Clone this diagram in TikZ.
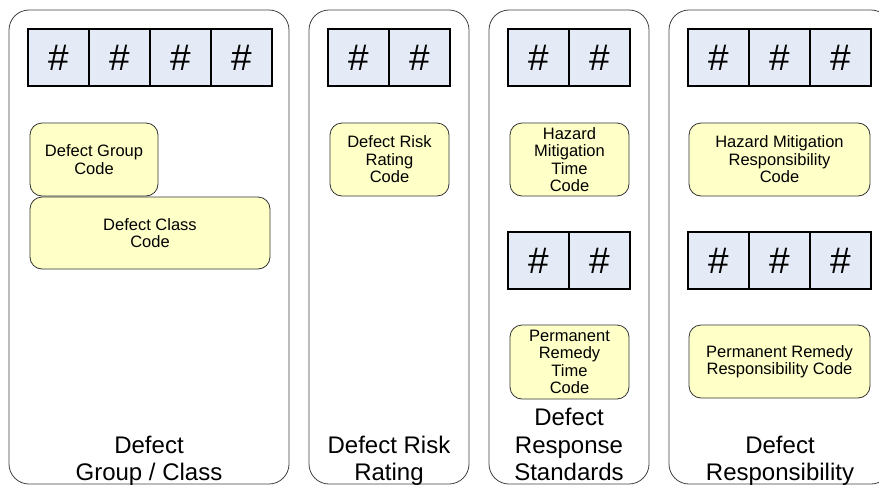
\documentclass[tikz,border=0pt]{standalone}
\usepackage{fontspec}
\setmainfont{Liberation Sans}

\definecolor{hashfill}{RGB}{229,235,246}
\definecolor{codefill}{RGB}{255,255,200}

\begin{document}
\begin{tikzpicture}[x=1pt,y=-1pt]
	\tikzstyle{panel}=[draw=black!75, line width=0.8pt, rounded corners=20pt, minimum height=474pt, inner sep=0pt, outer sep=0pt]
	\tikzstyle{hashcell}=[draw=black, line width=2.4pt, fill=hashfill, minimum width=61pt, minimum height=57pt, inner sep=0pt, outer sep=0pt]
	\tikzstyle{hashcell}+=[font=\fontsize{37}{37}\selectfont]
	\tikzstyle{codebox}=[draw=black!80, line width=0.8pt, fill=codefill, rounded corners=12pt, align=center, minimum height=73pt, inner sep=2pt, outer sep=0pt]
	\tikzstyle{codebox}+=[font=\fontsize{16.5}{17.5}\selectfont]
	\tikzstyle{paneltitle}=[align=center, anchor=south, inner sep=0pt, font=\fontsize{24}{27.5}\selectfont]

	\useasboundingbox (0,0) rectangle (879,485);
	\clip (0,0) rectangle (879,485);

	% the four column panels
	\node[panel, minimum width=280pt] (group) at (149,247) {};
	\node[panel, minimum width=160pt, anchor=west] (risk) at ([xshift=20pt] group.east) {};
	\node[panel, minimum width=160pt, anchor=west] (response) at ([xshift=20pt] risk.east) {};
	\node[panel, minimum width=222pt, anchor=west] (resp) at ([xshift=20pt] response.east) {};

	% digit cells
	\node[hashcell, anchor=north west] (groupA) at ([xshift=19pt, yshift=-19pt] group.north west) {\#};
	\node[hashcell, anchor=west] (groupB) at (groupA.east) {\#};
	\node[hashcell, anchor=west] (groupC) at (groupB.east) {\#};
	\node[hashcell, anchor=west] (groupD) at (groupC.east) {\#};

	\node[hashcell, anchor=north west] (riskA) at ([xshift=19pt, yshift=-19pt] risk.north west) {\#};
	\node[hashcell, anchor=west] (riskB) at (riskA.east) {\#};

	\node[hashcell, anchor=north west] (hazardA) at ([xshift=19pt, yshift=-19pt] response.north west) {\#};
	\node[hashcell, anchor=west] (hazardB) at (hazardA.east) {\#};
	\node[hashcell, anchor=north west] (remedyA) at ([xshift=19pt, yshift=-222pt] response.north west) {\#};
	\node[hashcell, anchor=west] (remedyB) at (remedyA.east) {\#};

	\node[hashcell, anchor=north west] (hazrespA) at ([xshift=19pt, yshift=-19pt] resp.north west) {\#};
	\node[hashcell, anchor=west] (hazrespB) at (hazrespA.east) {\#};
	\node[hashcell, anchor=west] (hazrespC) at (hazrespB.east) {\#};
	\node[hashcell, anchor=north west] (remrespA) at ([xshift=19pt, yshift=-222pt] resp.north west) {\#};
	\node[hashcell, anchor=west] (remrespB) at (remrespA.east) {\#};
	\node[hashcell, anchor=west] (remrespC) at (remrespB.east) {\#};

	% code boxes
	\node[codebox, minimum width=128pt, anchor=north west] (groupcode) at ([xshift=21pt, yshift=-113pt] group.north west) {Defect Group\\Code};
	\node[codebox, minimum width=240pt, minimum height=72pt, anchor=north west] (classcode) at ([yshift=-1pt] groupcode.south west) {Defect Class\\Code};
	\node[codebox, minimum width=119pt, anchor=north west] (riskcode) at ([xshift=21pt, yshift=-113pt] risk.north west) {Defect Risk\\Rating\\Code};
	\node[codebox, minimum width=119pt, anchor=north west] (hazardcode) at ([xshift=21pt, yshift=-113pt] response.north west) {Hazard\\Mitigation\\Time\\Code};
	\node[codebox, minimum width=119pt, minimum height=74pt, anchor=north west] (remedycode) at ([xshift=21pt, yshift=-315pt] response.north west) {Permanent\\Remedy\\Time\\Code};
	\node[codebox, minimum width=181pt, anchor=north west] (hazrespcode) at ([xshift=20pt, yshift=-113pt] resp.north west) {Hazard Mitigation\\Responsibility\\Code};
	\node[codebox, minimum width=181pt, anchor=north west] (remrespcode) at ([xshift=20pt, yshift=-315pt] resp.north west) {Permanent Remedy\\Responsibility Code};

	% panel titles
	\node[paneltitle] (grouptitle) at ([yshift=-5pt] group.south) {Defect\\Group / Class\strut};
	\node[paneltitle] (risktitle) at ([yshift=-5pt] risk.south) {Defect Risk\\Rating\strut};
	\node[paneltitle] (responsetitle) at ([yshift=-5pt] response.south) {Defect\\Response\\Standards\strut};
	\node[paneltitle] (resptitle) at ([yshift=-5pt] resp.south) {Defect\\Responsibility\strut};
\end{tikzpicture}
\end{document}
